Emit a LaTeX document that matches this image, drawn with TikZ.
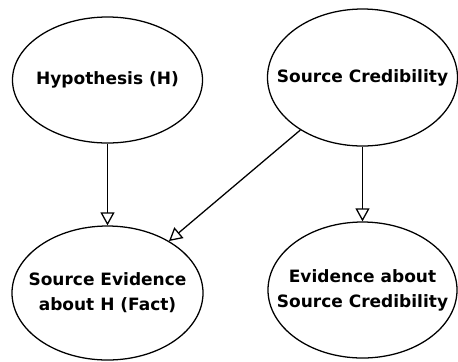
\documentclass[tikz,border=0pt]{standalone}
\usepackage{fontspec}
\setmainfont{DejaVu Sans}
\usetikzlibrary{shapes.geometric,arrows.meta}
\tikzset{
	oval/.style={draw, ellipse, line width=0.45mm, inner sep=0pt, color=black},
	ovaltext/.style={font=\fontsize{17bp}{25bp}\selectfont\bfseries, align=center, inner sep=0pt},
	link/.style={line width=0.45mm, -{Triangle[open, length=13bp, width=14bp]}}
}

\begin{document}
\begin{tikzpicture}[x=1bp, y=-1bp]
		%%%%% START %%%%%
		
		\useasboundingbox (0, 0) rectangle (458, 361);
		
		\node[oval, minimum width=190bp, minimum height=126bp, label={[ovaltext]center:Hypothesis (H)}] (hyp) at (107.5, 80) {};
		\node[oval, minimum width=190bp, minimum height=137bp, label={[ovaltext]center:Source Credibility}] (cred) at (362.5, 77.5) {};
		
		\node[oval, minimum width=191bp, minimum height=134bp, label={[ovaltext]center:Source Evidence\\about H (Fact)}] (fact) at (107.5, 293) {};
		\node[oval, minimum width=189bp, minimum height=136bp, label={[ovaltext]center:Evidence about\\Source Credibility}] (credev) at (362.5, 290) {};
		
		\draw[link] (hyp) -- (fact);
		\draw[link] (cred) -- (fact);
		\draw[link] (cred) -- (credev);
		
		%%%%% END %%%%%
\end{tikzpicture}
\end{document}
